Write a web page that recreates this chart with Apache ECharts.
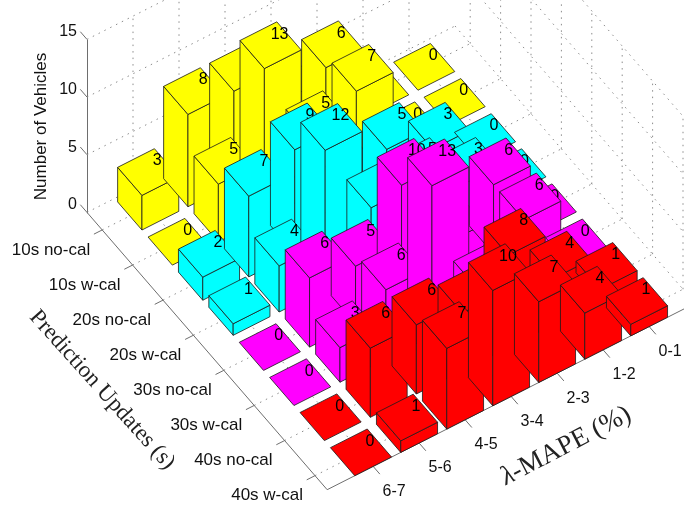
<!DOCTYPE html>
<html>
<head>
<meta charset="utf-8">
<title>Number of Vehicles</title>
<script src="https://cdn.jsdelivr.net/npm/echarts@6/dist/echarts.min.js"></script>
<style>
  html, body { margin: 0; padding: 0; background: #fff; }
  #chart { width: 684px; height: 508px; filter: blur(0.4px); }
</style>
</head>
<body>
<div id="chart"></div>
<script>
const updateLabels = ['10s no-cal', '10s w-cal', '20s no-cal', '20s w-cal', '30s no-cal', '30s w-cal', '40s no-cal', '40s w-cal']
const mapeLabels = ['0-1', '1-2', '2-3', '3-4', '4-5', '5-6', '6-7']
const zTicks = [0, 5, 10, 15]

// vehicles per lambda-MAPE bin, one list per prediction update
const counts10sNoCal = [0, 0, 6, 5, 8, 8, 3]
const counts10sWCal = [0, 0, 7, 5, 13, 5, 0]
const counts20sNoCal = [0, 3, 5, 4, 9, 7, 2]
const counts20sWCal = [0, 3, 5, 5, 12, 4, 1]
const counts30sNoCal = [0, 6, 3, 10, 5, 6, 0]
const counts30sWCal = [0, 6, 2, 13, 6, 3, 0]
const counts40sNoCal = [1, 4, 8, 5, 6, 6, 0]
const counts40sWCal = [1, 4, 7, 10, 7, 1, 0]
const counts = [counts10sNoCal, counts10sWCal, counts20sNoCal, counts20sWCal,
  counts30sNoCal, counts30sWCal, counts40sNoCal, counts40sWCal]

const rowColors = ['#ffff00', '#ffff00', '#00ffff', '#00ffff', '#ff00ff', '#ff00ff', '#ff0000', '#ff0000']

const chart = echarts.init(document.getElementById('chart'))

// the floor is a hidden flat grid, sheared here into the oblique view
const ROW_W = 30.4
const COL_W = 46
const OX = 455
const OY = 26
const floor = (p) => [OX + p[0] - p[1], OY + p[0] * 35.1 / ROW_W + p[1] * 23.3 / COL_W]
const zPx = (v) => chart.convertToPixel({ yAxisIndex: 1 }, v)
const project = (api, r, k, v) => {
  const s = floor(api.coord([r, k]))
  return [s[0], s[1] + zPx(v) - zPx(0)]
}

const BAR = 0.4
const EDGE = '#1a1a1a'

const renderBar = (params, api) => {
  const r = api.value(0)
  const k = api.value(1)
  const v = api.value(2)
  const fill = rowColors[r - 1]
  const corner = (dr, dk, h) => project(api, r + dr, k + dk, h)
  const face = (pts) => ({
    type: 'polygon',
    shape: { points: pts },
    style: { fill, stroke: EDGE, lineWidth: 0.8, lineJoin: 'round' }
  })
  const a = corner(-BAR, BAR, v)
  const b = corner(-BAR, -BAR, v)
  const c = corner(BAR, -BAR, v)
  const d = corner(BAR, BAR, v)
  const children = []
  if (v > 0) {
    children.push(face([a, d, corner(BAR, BAR, 0), corner(-BAR, BAR, 0)]))
    children.push(face([d, c, corner(BAR, -BAR, 0), corner(BAR, BAR, 0)]))
  }
  children.push(face([a, b, c, d]))
  const top = project(api, r, k, v)
  children.push({
    type: 'text',
    style: {
      x: top[0] + 9,
      y: top[1] - 11,
      text: String(v),
      fontFamily: 'Liberation Sans',
      fontSize: 16,
      fill: '#000',
      align: 'center',
      verticalAlign: 'middle'
    }
  })
  return { type: 'group', children }
}

const GRID_COLOR = '#8c8c8c'
const AXIS_COLOR = '#6e6e6e'
const TEXT_COLOR = '#111'

const renderFrame = (params, api) => {
  const children = []
  const dotted = (p, q) => children.push({
    type: 'line',
    shape: { x1: p[0], y1: p[1], x2: q[0], y2: q[1] },
    style: { stroke: GRID_COLOR, lineWidth: 1, lineDash: [1.5, 5] }
  })
  const solid = (p, q) => children.push({
    type: 'line',
    shape: { x1: p[0], y1: p[1], x2: q[0], y2: q[1] },
    style: { stroke: AXIS_COLOR, lineWidth: 1 }
  })
  const label = (text, x, y, align, fontSize) => children.push({
    type: 'text',
    style: { x, y, text, align, verticalAlign: 'middle', fontFamily: 'Liberation Sans', fontSize, fill: TEXT_COLOR }
  })
  const rMin = 0.5
  const rMax = 8.4
  const kMin = 0
  const kMax = 8
  const zMax = 15

  // back walls and floor
  zTicks.forEach((z) => {
    dotted(project(api, rMin, kMax, z), project(api, rMin, kMin, z))
    dotted(project(api, rMin, kMin, z), project(api, rMax, kMin, z))
  })
  updateLabels.forEach((name, i) => {
    const r = i + 1
    dotted(project(api, r, kMin, 0), project(api, r, kMin, zMax))
    dotted(project(api, r, kMax, 0), project(api, r, kMin, 0))
  })
  mapeLabels.forEach((name, i) => {
    const k = i + 1
    dotted(project(api, rMin, k, 0), project(api, rMin, k, zMax))
    dotted(project(api, rMax, k, 0), project(api, rMin, k, 0))
  })

  // axes with their ticks, which lean along the floor directions
  solid(project(api, rMin, kMax, 0), project(api, rMax, kMax, 0))
  solid(project(api, rMax, kMax, 0), project(api, rMax, kMin, 0))
  updateLabels.forEach((name, i) => {
    const r = i + 1
    const p = project(api, r, kMax, 0)
    solid(p, project(api, r, kMax + 0.18, 0))
    label(name, p[0] - 12, p[1] + 20, 'right', 17)
  })
  mapeLabels.forEach((name, i) => {
    const k = i + 1
    const p = project(api, rMax, k, 0)
    solid(p, project(api, rMax + 0.22, k, 0))
    label(name, p[0] + 21, p[1] + 25, 'center', 16)
  })
  zTicks.forEach((z) => {
    solid(project(api, rMin, kMax, z), project(api, rMin - 0.22, kMax, z))
  })

  // axis titles follow the floor edges
  children.push({
    type: 'text',
    x: 102,
    y: 390,
    rotation: -48 * Math.PI / 180,
    style: {
      text: 'Prediction Updates (s)',
      fontFamily: 'Liberation Serif',
      fontSize: 23,
      fill: '#222',
      align: 'center',
      verticalAlign: 'middle'
    }
  })
  children.push({
    type: 'text',
    x: 566,
    y: 446,
    rotation: 27.5 * Math.PI / 180,
    style: {
      text: '{l|λ}-MAPE (%)',
      fontFamily: 'Liberation Serif',
      fontSize: 27,
      fill: '#222',
      align: 'center',
      verticalAlign: 'middle',
      rich: { l: { fontFamily: 'Liberation Serif', fontStyle: 'italic', fontSize: 27, fill: '#222' } }
    }
  })
  return { type: 'group', children }
}

// far bars first, so nearer bars cover them
const barData = []
counts.forEach((row, i) => {
  for (let j = row.length - 1; j >= 0; j--) {
    barData.push([i + 1, j + 1, row[j]])
  }
})

chart.setOption({
  animation: false,
  backgroundColor: '#fff',
  grid: [
    { left: 0, top: 0, width: 8 * ROW_W, height: 8 * COL_W },
    { left: 87, top: 40, width: 10, height: 173 }
  ],
  xAxis: [
    { type: 'value', gridIndex: 0, min: 0.5, max: 8.5, show: false },
    { type: 'value', gridIndex: 1, show: false }
  ],
  yAxis: [
    { type: 'value', gridIndex: 0, min: 0, max: 8, inverse: true, show: false },
    {
      type: 'value',
      gridIndex: 1,
      min: 0,
      max: 15,
      interval: 5,
      name: 'Number of Vehicles',
      nameLocation: 'middle',
      nameRotate: 90,
      nameGap: 37,
      nameTextStyle: { fontFamily: 'Liberation Sans', fontSize: 17, color: TEXT_COLOR },
      axisLine: { show: true, lineStyle: { color: AXIS_COLOR, width: 1 } },
      axisTick: { show: false },
      splitLine: { show: false },
      axisLabel: {
        margin: 10,
        fontFamily: 'Liberation Sans',
        fontSize: 16,
        color: TEXT_COLOR,
        verticalAlign: 'bottom'
      }
    }
  ],
  series: [
    {
      type: 'custom',
      name: 'frame',
      xAxisIndex: 0,
      yAxisIndex: 0,
      silent: true,
      z: 1,
      clip: false,
      renderItem: renderFrame,
      data: [[0.5, 0]]
    },
    {
      type: 'custom',
      name: 'vehicles',
      xAxisIndex: 0,
      yAxisIndex: 0,
      silent: true,
      z: 2,
      clip: false,
      encode: { x: 0, y: 1 },
      renderItem: renderBar,
      data: barData
    }
  ]
})

window.addEventListener('resize', () => chart.resize())
</script>
</body>
</html>
